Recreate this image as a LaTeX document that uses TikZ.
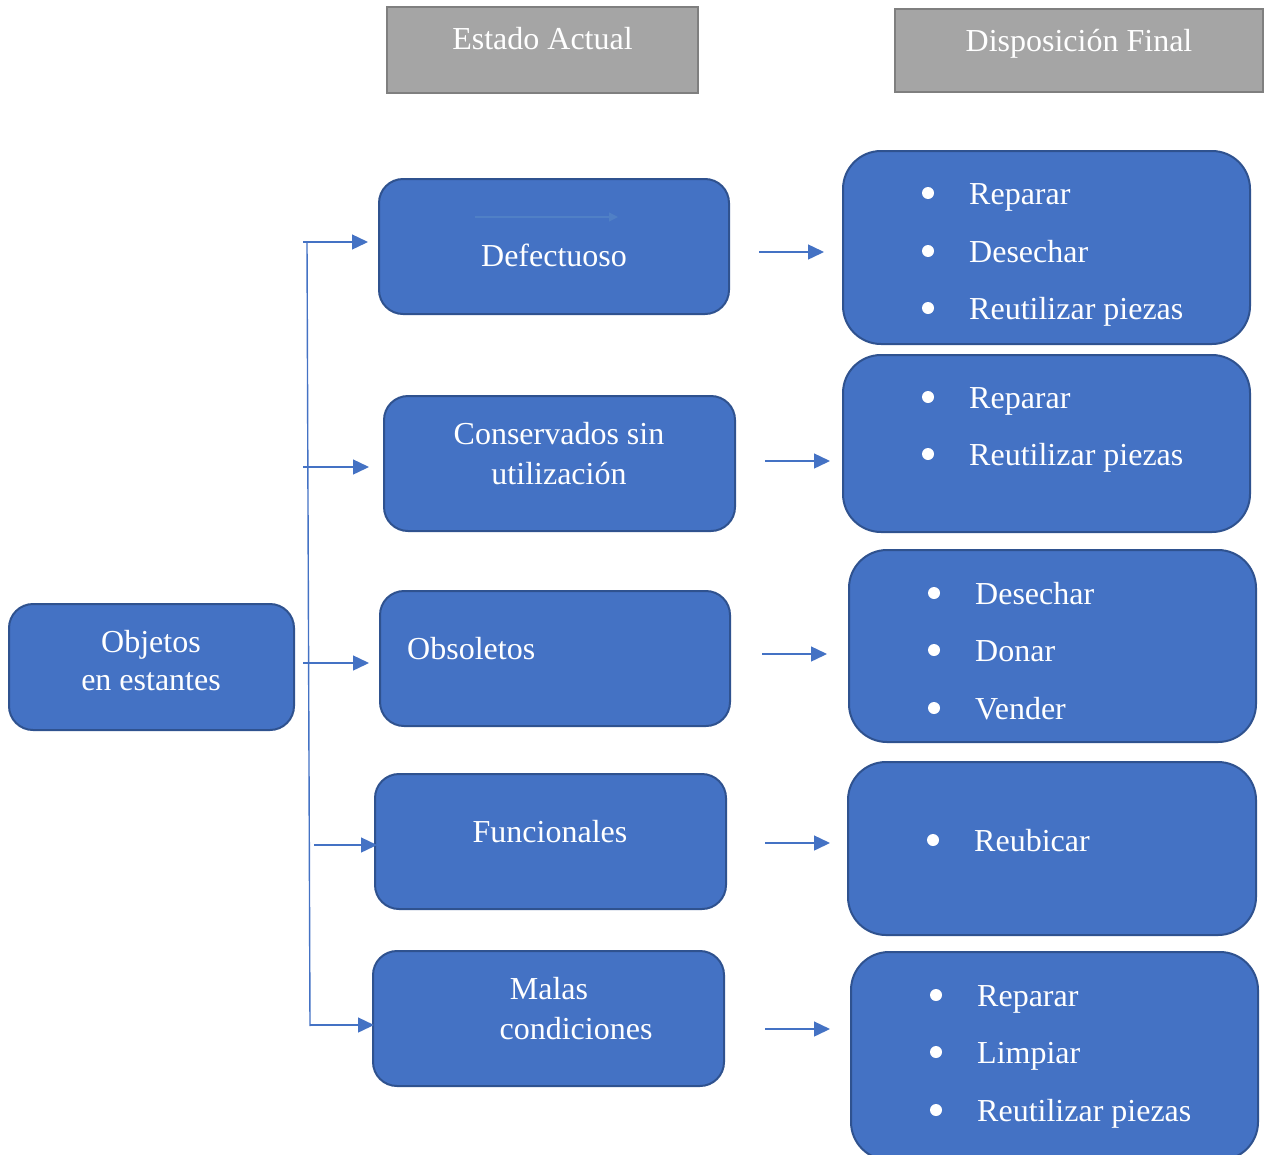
\documentclass[tikz,border=0pt]{standalone}
\usepackage{fontspec}
\setmainfont{Liberation Serif}
\usetikzlibrary{arrows.meta}
\definecolor{boxblue}{HTML}{4472C4}
\definecolor{boxedge}{HTML}{2F528F}
\definecolor{hdrgray}{HTML}{A5A5A5}
\definecolor{hdredge}{HTML}{7F7F7F}
\definecolor{faintarrow}{HTML}{5080C6}
\begin{document}
\begin{tikzpicture}[x=1pt,y=-1pt,
  txt/.style={text=white,font=\fontsize{32}{40}\selectfont,inner sep=0pt},
  hdr/.style={draw=hdredge,line width=2.2pt,fill=hdrgray},
  statebox/.style={draw=boxedge,line width=2pt,fill=boxblue,rounded corners=24pt},
  dispbox/.style={draw=boxedge,line width=2pt,fill=boxblue,rounded corners=38pt},
  link/.style={draw=boxblue,line width=1.4pt,-{Triangle[length=16pt,width=15pt]}},
  bul/.style={circle,fill=white,inner sep=0pt,minimum size=12pt},
  item/.style={txt,anchor=base west}]
\useasboundingbox (0,0) rectangle (1273,1154);
\clip (0,0) rectangle (1273,1154);

% column headers
\draw[hdr] (387,7) rectangle (698,93);
\node (hA) [txt,anchor=base] at (542.5,49) {Estado Actual};
\draw[hdr] (895,9) rectangle (1263,92);
\node (hB) [txt,anchor=base] at (1079,51) {Disposición Final};

% root box
\draw[statebox] (9,604) rectangle (294,730);
\node (root) at (151.5,667) {};
\node [txt,anchor=base] at (151,652) {Objetos};
\node [txt,anchor=base] at (151,690) {en estantes};

% state boxes
\draw[statebox] (379,179) rectangle (729,314);
\node (s1) at (554,246) {};
\draw[faintarrow,line width=1.2pt,-{Triangle[length=9pt,width=9pt]}] (475,217) -- (618,217);
\node [txt,anchor=base] at (554,266) {Defectuoso};

\draw[statebox] (384,396) rectangle (735,531);
\node (s2) at (559.5,463) {};
\node [txt,anchor=base] at (559,444) {Conservados sin};
\node [txt,anchor=base] at (559,484) {utilización};

\draw[statebox] (380,591) rectangle (730,726);
\node (s3) at (555,658) {};
\node [txt,anchor=base west] at (407,659) {Obsoletos};

\draw[statebox] (375,774) rectangle (726,909);
\node (s4) at (550,841) {};
\node [txt,anchor=base] at (550,842) {Funcionales};

\draw[statebox] (373,951) rectangle (724,1086);
\node (s5) at (548,1018) {};
\node [txt,anchor=base] at (549,999) {Malas};
\node [txt,anchor=base] at (576,1039) {condiciones};

% disposition boxes
\draw[dispbox] (843,151) rectangle (1250,344);
\node (d1) at (1046,247) {};
\node[bul] at (928,193) {}; \node[item] at (969,204) {Reparar};
\node[bul] at (928,251) {}; \node[item] at (969,262) {Desechar};
\node[bul] at (928,308) {}; \node[item] at (969,319) {Reutilizar piezas};

\draw[dispbox] (843,355) rectangle (1250,532);
\node (d2) at (1046,443) {};
\node[bul] at (928,397) {}; \node[item] at (969,408) {Reparar};
\node[bul] at (928,454) {}; \node[item] at (969,465) {Reutilizar piezas};

\draw[dispbox] (849,550) rectangle (1256,742);
\node (d3) at (1052,646) {};
\node[bul] at (934,593) {}; \node[item] at (975,604) {Desechar};
\node[bul] at (934,650) {}; \node[item] at (975,661) {Donar};
\node[bul] at (934,708) {}; \node[item] at (975,719) {Vender};

\draw[dispbox] (848,762) rectangle (1256,935);
\node (d4) at (1052,848) {};
\node[bul] at (933,840) {}; \node[item] at (974,851) {Reubicar};

\draw[dispbox] (851,952) rectangle (1258,1160);
\node (d5) at (1054,1056) {};
\node[bul] at (936,995) {}; \node[item] at (977,1006) {Reparar};
\node[bul] at (936,1052) {}; \node[item] at (977,1063) {Limpiar};
\node[bul] at (936,1110) {}; \node[item] at (977,1121) {Reutilizar piezas};

% branching tree from the root
\coordinate (trunkTop) at (307,242);
\coordinate (trunkBot) at (310,1026);
\draw[boxblue,line width=1.4pt] (trunkTop) -- (trunkBot);
\coordinate (b1) at (303,242);  \coordinate (t1) at (368,242);
\coordinate (b2) at (303,467);  \coordinate (t2) at (369,467);
\coordinate (b3) at (303,663);  \coordinate (t3) at (369,663);
\coordinate (b4) at (314,845);  \coordinate (t4) at (377,845);
\coordinate (b5) at (310,1025); \coordinate (t5) at (374,1025);
\foreach \i in {1,...,5} \draw[link] (b\i) -- (t\i);

% arrows from states to dispositions
\coordinate (r1a) at (759,252);  \coordinate (r1b) at (824,252);
\coordinate (r2a) at (765,461);  \coordinate (r2b) at (830,461);
\coordinate (r3a) at (762,654);  \coordinate (r3b) at (827,654);
\coordinate (r4a) at (765,843);  \coordinate (r4b) at (830,843);
\coordinate (r5a) at (765,1029); \coordinate (r5b) at (830,1029);
\foreach \i in {1,...,5} \draw[link] (r\i a) -- (r\i b);
\end{tikzpicture}
\end{document}
